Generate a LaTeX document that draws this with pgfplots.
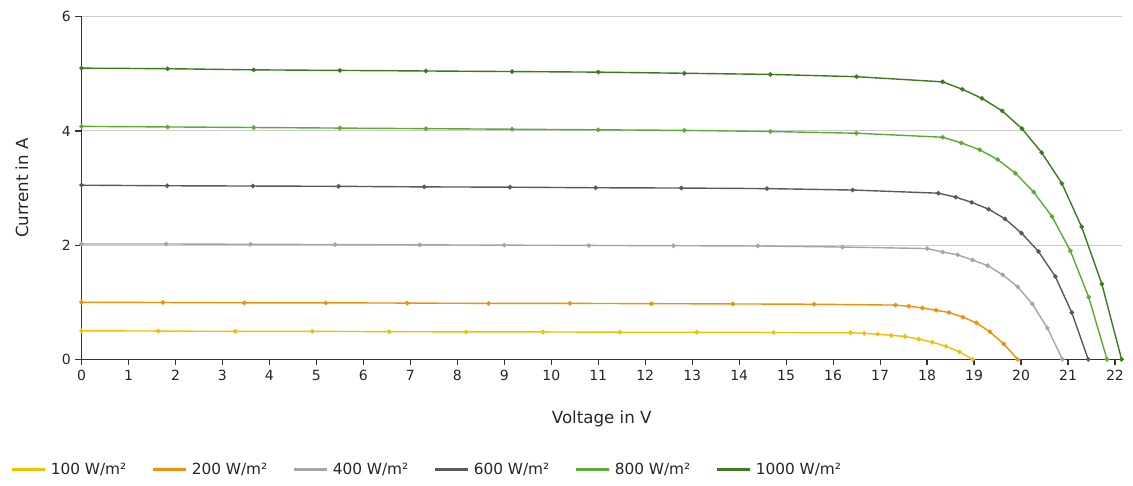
\documentclass[border=0pt]{standalone}
\usepackage{pgfplots}
\pgfplotsset{compat=1.18}
\usepackage{fontspec}
\setmainfont{DejaVu Sans}
\definecolor{c100}{HTML}{F5BE00}
\definecolor{c200}{HTML}{F0900A}
\definecolor{c400}{HTML}{A5A5A5}
\definecolor{c600}{HTML}{5A5A5A}
\definecolor{c800}{HTML}{5BAA36}
\definecolor{c1000}{HTML}{3B7A1E}
\definecolor{axc}{HTML}{333333}
\begin{document}
\begin{tikzpicture}
\useasboundingbox (0,0) rectangle (849.75pt,364.5pt);
\begin{axis}[
  at={(61.125pt,95.0pt)}, anchor=south west,
  scale only axis, width=780.4pt, height=256.95pt,
  xmin=0, xmax=22.15, ymin=0, ymax=6,
  clip=false,
  axis x line*=bottom, axis y line*=left,
  axis line style={axc, line width=0.9pt, -},
  xtick={0,1,...,22}, ytick={0,2,4,6},
  tick align=outside, major tick length=4.5pt,
  tick style={axc, line width=0.9pt},
  ymajorgrids, grid style={color=black!20, line width=0.75pt},
  ticklabel style={font=\fontsize{10.5}{12}\selectfont, text=black!85},
  /pgf/number format/assume math mode=true,
  xlabel={Voltage in V}, ylabel={Current in A},
  label style={font=\fontsize{12.5}{14}\selectfont, text=black!85},
  xlabel style={at={(axis description cs:0.5,-0.173)}, anchor=center},
  ylabel style={at={(axis description cs:-0.0572,0.5)}, anchor=center},
  every axis plot/.append style={line width=1.05pt, mark=*, mark size=1.15pt},
  legend columns=6,
  legend style={at={(axis description cs:-0.0683,-0.322)}, anchor=west, draw=none,
    inner sep=0pt, outer sep=0pt, font=\fontsize{11.5}{13}\selectfont,
    nodes={inner sep=0pt, text=black!85},
    /tikz/every odd column/.append style={column sep=3pt}},
  legend image code/.code={\draw[#1, line width=2.5pt, mark=none] (0pt,0pt) -- (24.75pt,0pt);},
]
\addplot[c100, mark options={fill=c100, draw=c100}] coordinates {
(0,0.50) (1.637,0.495) (3.274,0.49) (4.911,0.49) (6.548,0.485) (8.185,0.48) (9.822,0.48) (11.459,0.475) (13.096,0.475) (14.733,0.47) (16.37,0.467)
(16.66,0.455) (16.95,0.44) (17.24,0.42) (17.53,0.40) (17.82,0.355) (18.11,0.30) (18.40,0.23) (18.69,0.13) (18.97,0)};
\addplot[c200, mark options={fill=c200, draw=c200}] coordinates {
(0,1.00) (1.733,0.995) (3.466,0.99) (5.199,0.99) (6.932,0.985) (8.665,0.98) (10.398,0.98) (12.131,0.975) (13.864,0.97) (15.597,0.965) (17.33,0.95)
(17.61,0.93) (17.90,0.90) (18.19,0.86) (18.47,0.82) (18.76,0.74) (19.05,0.64) (19.34,0.48) (19.63,0.27) (19.93,0)};
\addplot[c400, mark options={fill=c400, draw=c400}] coordinates {
(0,2.02) (1.8,2.02) (3.6,2.015) (5.4,2.01) (7.2,2.005) (9.0,2.00) (10.8,1.995) (12.6,1.99) (14.4,1.985) (16.2,1.967) (18.0,1.94)
(18.33,1.88) (18.65,1.83) (18.97,1.74) (19.29,1.64) (19.61,1.48) (19.93,1.27) (20.24,0.97) (20.56,0.55) (20.88,0)};
\addplot[c600, mark options={fill=c600, draw=c600}] coordinates {
(0,3.05) (1.824,3.04) (3.648,3.035) (5.472,3.03) (7.296,3.02) (9.12,3.015) (10.944,3.005) (12.768,3.00) (14.592,2.99) (16.416,2.965) (18.24,2.91)
(18.61,2.84) (18.95,2.75) (19.31,2.63) (19.66,2.46) (20.01,2.21) (20.37,1.89) (20.73,1.45) (21.08,0.82) (21.43,0)};
\addplot[c800, mark options={fill=c800, draw=c800}] coordinates {
(0,4.08) (1.833,4.07) (3.666,4.06) (5.499,4.05) (7.332,4.04) (9.165,4.03) (10.998,4.02) (12.831,4.01) (14.664,3.99) (16.497,3.96) (18.33,3.89)
(18.73,3.79) (19.12,3.67) (19.50,3.50) (19.88,3.26) (20.27,2.93) (20.66,2.50) (21.05,1.90) (21.44,1.09) (21.83,0)};
\addplot[c1000, mark options={fill=c1000, draw=c1000}] coordinates {
(0,5.10) (1.833,5.09) (3.666,5.07) (5.499,5.06) (7.332,5.05) (9.165,5.04) (10.998,5.03) (12.831,5.01) (14.664,4.99) (16.497,4.95) (18.33,4.86)
(18.75,4.73) (19.17,4.57) (19.60,4.35) (20.02,4.04) (20.44,3.62) (20.87,3.08) (21.29,2.32) (21.72,1.32) (22.14,0)};
\legend{\makebox[75.5pt][l]{100 W/m²},\makebox[75.5pt][l]{200 W/m²},\makebox[75.5pt][l]{400 W/m²},\makebox[75.5pt][l]{600 W/m²},\makebox[75.5pt][l]{800 W/m²},\makebox[75.5pt][l]{1000 W/m²}}
\end{axis}
\end{tikzpicture}
\end{document}
